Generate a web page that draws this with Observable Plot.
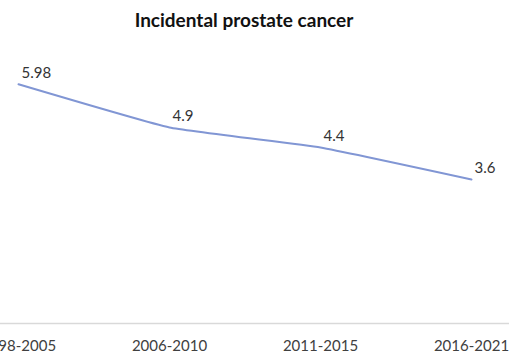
<!DOCTYPE html>
<html>
<head>
<meta charset="utf-8">
<script src="https://cdn.jsdelivr.net/npm/d3@7"></script>
<script src="https://cdn.jsdelivr.net/npm/@observablehq/plot@0.6"></script>
<style>
  html, body { margin: 0; padding: 0; background: #fff; overflow: hidden; }
  #title {
    width: 509px; height: 40px; box-sizing: border-box;
    padding-top: 10px; padding-right: 21px;
    font-family: Lato, sans-serif; font-weight: bold; font-size: 19px; line-height: 20px;
    text-align: center; color: #111;
  }
</style>
</head>
<body>
<div id="title">Incidental prostate cancer</div>
<div id="chart"></div>
<script>
const periods = ["1998-2005", "2006-2010", "2011-2015", "2016-2021"];
const values = [5.98, 4.9, 4.4, 3.6];
const valueLabels = ["5.98", "4.9", "4.4", "3.6"];

const data = periods.map((p, i) => ({period: p, value: values[i], label: valueLabels[i]}));

const chart = Plot.plot({
  width: 509,
  height: 315,
  marginLeft: 18,
  marginRight: 38,
  marginTop: 43,
  marginBottom: 32,
  style: {fontFamily: "Lato, sans-serif", fontSize: "15px", color: "#404040", background: "#fff"},
  x: {type: "point", domain: periods, padding: 0, label: null},
  y: {domain: [0, 6], axis: null},
  marks: [
    Plot.ruleY([0], {stroke: "#d9d9d9", strokeWidth: 1.5, insetLeft: -18, insetRight: -38}),
    Plot.axisX({tickSize: 0, tickPadding: 17, fill: "#404040", fontSize: 15, label: null}),
    Plot.line(data, {x: "period", y: "value", stroke: "#8196d4", strokeWidth: 2, curve: "cardinal", tension: 0.65}),
    Plot.text(data, {x: "period", y: "value", text: "label", textAnchor: "start", dx: 3, dy: -11, fill: "#333", fontSize: 15})
  ]
});
document.getElementById("chart").appendChild(chart);
</script>
</body>
</html>
